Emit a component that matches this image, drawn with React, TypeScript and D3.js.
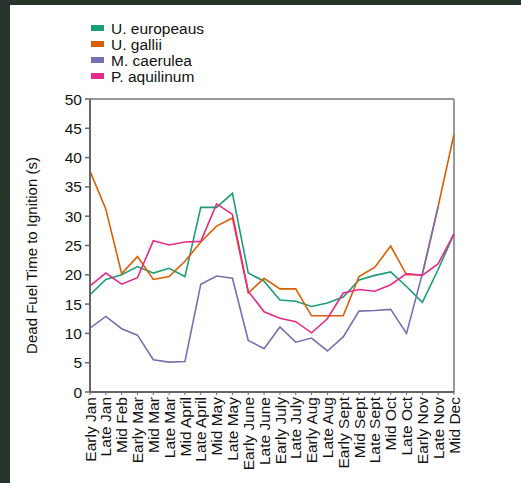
import React from "react";
import * as d3 from "d3";

const categories = [
  "Early Jan", "Late Jan", "Mid Feb", "Early Mar", "Mid Mar", "Late Mar",
  "Mid April", "Late April", "Mid May", "Late May", "Early June", "Late June",
  "Early July", "Late July", "Early Aug", "Late Aug", "Early Sept", "Mid Sept",
  "Late Sept", "Mid Oct", "Late Oct", "Early Nov", "Late Nov", "Mid Dec",
];

const europeaus = [16.6, 19.2, 20, 21.4, 20.3, 21.1, 19.7, 31.5, 31.5, 33.9, 20.3, 18.9,
  15.7, 15.5, 14.6, 15.2, 16.2, 19.1, 19.9, 20.5, 18.0, 15.3, 20.9, 27.0];
const gallii = [37.7, 31.2, 20.2, 23.1, 19.2, 19.7, 22.3, 25.6, 28.3, 29.7, 16.9, 19.4,
  17.6, 17.6, 13.0, 13.0, 13.0, 19.7, 21.3, 24.9, 20.0, 20.0, 31.7, 44.0];
const caerulea: (number | null)[] = [10.9, 12.9, 10.8, 9.7, 5.5, 5.1, 5.2, 18.4, 19.8, 19.4, 8.8, 7.4,
  11.1, 8.5, 9.2, 7.0, 9.4, 13.8, 13.9, 14.1, 10.0, 20.2, 31.6, null];
const aquilinum = [18.1, 20.3, 18.4, 19.5, 25.8, 25.1, 25.6, 25.7, 32.1, 30.3, 17.2, 13.7,
  12.6, 12.0, 10.1, 12.5, 16.9, 17.5, 17.2, 18.3, 20.2, 19.9, 21.9, 27.0];

const seriesNames = ["U. europeaus", "U. gallii", "M. caerulea", "P. aquilinum"];
const seriesValues = [europeaus, gallii, caerulea, aquilinum];
const colors = ["#1b9e77", "#d95f02", "#7570b3", "#e7298a"];
const yTicks = [0, 5, 10, 15, 20, 25, 30, 35, 40, 45, 50];
const yLabel = "Dead Fuel Time to Ignition (s)";

export default function App() {
  const W = 521, H = 483;
  const left = 90, right = 454, top = 99, bottom = 392;
  const x = d3.scalePoint<string>().domain(categories).range([left, right]).padding(0);
  const y = d3.scaleLinear().domain([0, 50]).range([bottom, top]);
  const line = d3.line<number | null>()
    .defined((d) => d !== null)
    .x((_, i) => x(categories[i]) as number)
    .y((d) => y(d as number));
  const font = "'Liberation Sans', Arial, Helvetica, sans-serif";

  return (
    <svg width={W} height={H} style={{ position: "absolute", left: 0, top: 0 }} fontFamily={font}>
      <rect x={0} y={0} width={W} height={H} fill="#26342b" />
      <rect x={10} y={5} width={W - 10} height={H - 5} fill="#ffffff" />

      {/* legend */}
      {seriesNames.map((n, i) => (
        <g key={n} transform={`translate(91, ${28 + i * 16})`}>
          <rect x={0} y={-3} width={13} height={6} fill={colors[i]} />
          <text x={20} y={0} dy="0.36em" fontSize={15.5} fill="#111">{n}</text>
        </g>
      ))}

      {/* frame top/right */}
      <line x1={left} x2={right} y1={top} y2={top} stroke="#777" strokeWidth={1.5} />
      <line x1={right} x2={right} y1={top} y2={bottom} stroke="#777" strokeWidth={1.5} />

      {/* lines */}
      {seriesValues.map((vals, i) => (
        <path key={i} d={line(vals) || ""} fill="none" stroke={colors[i]} strokeWidth={1.6} strokeLinejoin="miter" />
      ))}

      {/* y axis */}
      <line x1={left} x2={left} y1={top} y2={bottom} stroke="#666" strokeWidth={2} />
      {yTicks.map((t) => (
        <g key={t} transform={`translate(0, ${y(t)})`}>
          <line x1={left - 5} x2={left} stroke="#666" strokeWidth={1.5} />
          <text x={left - 8} dy="0.36em" textAnchor="end" fontSize={15.5} fill="#111">{t}</text>
        </g>
      ))}
      <text transform={`translate(37, ${(top + bottom) / 2 + 10}) rotate(-90)`} textAnchor="middle"
        fontSize={15} fill="#111">{yLabel}</text>

      {/* x axis */}
      <line x1={left} x2={right} y1={bottom} y2={bottom} stroke="#666" strokeWidth={2} />
      {categories.map((c) => (
        <g key={c} transform={`translate(${x(c)}, ${bottom})`}>
          <line y1={0} y2={3} stroke="#666" strokeWidth={1} />
          <text transform="translate(0, 5) rotate(-90)" dy="0.36em" textAnchor="end" fontSize={15.5} fill="#111">{c}</text>
        </g>
      ))}
    </svg>
  );
}
